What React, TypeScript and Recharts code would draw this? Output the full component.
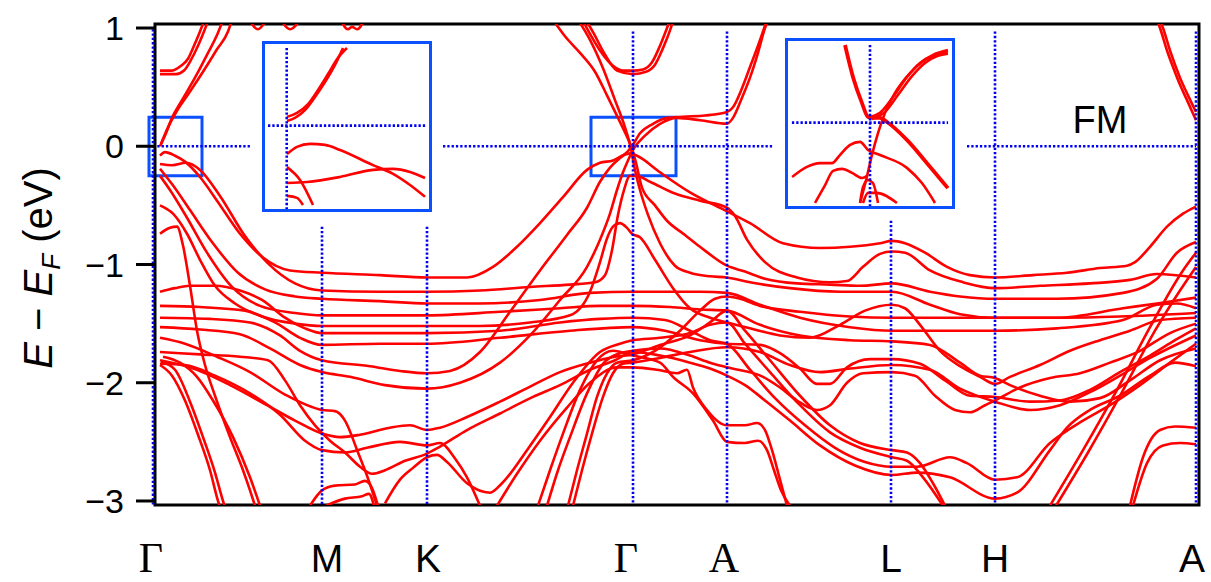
import React from 'react';
import { LineChart, Line, XAxis, YAxis, ReferenceLine, ReferenceArea } from 'recharts';

// Band structure along Γ–M–K–Γ–A–L–H–A (k in path units, energy in eV relative to E_F)
type Pt = [number, number];

const kTicks = [0, 169, 274, 480, 574, 738, 842, 1043];
const kLabels = ['Γ', 'M', 'K', 'Γ', 'A', 'L', 'H', 'A'];
const kLabelSerif = [true, false, false, true, true, false, false, false];
const eTicks = [-3, -2, -1, 0, 1];

// conduction bands
const c1: Pt[] = [[7,0.64],[19,0.64],[28,0.68],[35,0.74],[41,0.85],[46,0.95],[52,1.08]];
const c2: Pt[] = [[7,0.61],[23,0.61],[31,0.64],[38,0.73],[45,0.85],[50,0.95],[56,1.08]];
const c3: Pt[] = [[7,0.0],[13,0.11],[19,0.24],[29,0.39],[42,0.58],[55,0.79],[65,0.96],[70,1.07]];
const c4: Pt[] = [[8,0.02],[15,0.16],[24,0.3],[36,0.45],[50,0.63],[64,0.82],[75,0.97],[79,1.07]];
const c5: Pt[] = [[93,1.13],[105,0.99],[120,1.13],[137,0.99],[151,1.13]];
const c6: Pt[] = [[185,1.13],[195,0.99],[199,1.01],[204,0.99],[214,1.13]];
const c7: Pt[] = [[427,1.11],[437,0.95],[447,0.81],[460,0.68],[470,0.64],[480,0.64],[490,0.65],[499,0.71],[507,0.85],[514,1.0],[519,1.11]];
const c8: Pt[] = [[430,1.11],[441,0.95],[451,0.79],[464,0.64],[480,0.61],[493,0.63],[502,0.69],[510,0.83],[517,0.98],[522,1.11]];
const c9: Pt[] = [[1002,1.11],[1007,1.0],[1014,0.81],[1020,0.67],[1027,0.52],[1034,0.39],[1043,0.22]];
const c10: Pt[] = [[1005,1.11],[1010,1.0],[1017,0.81],[1027,0.58],[1035,0.43],[1043,0.29]];

// valence bands
const v1: Pt[] = [[7,-0.08],[12,-0.05],[22,-0.08],[32,-0.13],[47,-0.26],[64,-0.46],[87,-0.74],[110,-0.94],[137,-1.05],[169,-1.07],[227,-1.09],[274,-1.11],[314,-1.11],[340,-1.02],[364,-0.85],[387,-0.65],[410,-0.43],[434,-0.2],[447,-0.14],[460,-0.12],[469,-0.08],[477,-0.06],[484,-0.08],[507,-0.22],[537,-0.39],[574,-0.55],[597,-0.65],[630,-0.82],[667,-0.86],[697,-0.85],[727,-0.82],[739,-0.8],[752,-0.82],[772,-0.9],[794,-1.02],[817,-1.09],[842,-1.11],[880,-1.09],[914,-1.07],[947,-1.03],[974,-1.01],[982,-0.98],[997,-0.85],[1014,-0.68],[1030,-0.57],[1043,-0.51]];
const v2: Pt[] = [[7,-0.15],[19,-0.16],[33,-0.14],[47,-0.2],[67,-0.42],[92,-0.76],[115,-0.99],[142,-1.16],[169,-1.22],[227,-1.23],[274,-1.23],[327,-1.22],[377,-1.19],[417,-1.17],[442,-1.15],[452,-1.09],[459,-0.88],[465,-0.58],[471,-0.37],[477,-0.25],[483,-0.25],[497,-0.3],[522,-0.4],[547,-0.46],[574,-0.52],[582,-0.59],[594,-0.79],[612,-0.98],[644,-1.11],[677,-1.15],[694,-1.14],[710,-1.02],[727,-0.91],[739,-0.89],[752,-0.9],[777,-1.05],[810,-1.15],[842,-1.2],[887,-1.18],[937,-1.16],[977,-1.13],[1004,-1.08],[1043,-1.11]];
const v3: Pt[] = [[7,-0.19],[19,-0.32],[37,-0.54],[59,-0.81],[85,-1.07],[112,-1.21],[142,-1.27],[169,-1.29],[227,-1.31],[274,-1.33],[327,-1.33],[387,-1.3],[437,-1.24],[480,-1.23],[507,-1.23],[547,-1.23],[574,-1.24],[607,-1.34],[647,-1.45],[697,-1.53],[739,-1.56],[787,-1.56],[842,-1.56],[904,-1.54],[970,-1.47],[1004,-1.34],[1024,-1.33],[1043,-1.37]];
const v4: Pt[] = [[7,-0.25],[17,-0.37],[33,-0.59],[54,-0.9],[79,-1.19],[107,-1.35],[142,-1.41],[169,-1.43],[274,-1.43],[347,-1.4],[407,-1.37],[447,-1.35],[480,-1.35],[517,-1.36],[547,-1.38],[574,-1.39],[607,-1.51],[647,-1.6],[697,-1.64],[739,-1.65],[777,-1.68],[807,-1.83],[827,-1.94],[842,-1.96],[857,-2.02],[887,-2.11],[917,-2.16],[947,-2.13],[977,-1.98],[1007,-1.81],[1043,-1.71]];
const v5: Pt[] = [[7,-0.5],[20,-0.57],[34,-0.74],[47,-0.96],[62,-1.18],[82,-1.33],[109,-1.44],[142,-1.5],[169,-1.52],[274,-1.52],[327,-1.52],[377,-1.49],[417,-1.43],[437,-1.23],[447,-0.98],[454,-0.78],[460,-0.68],[467,-0.65],[474,-0.69],[479,-0.74],[487,-0.77],[502,-0.96],[520,-1.2],[537,-1.37],[557,-1.45],[574,-1.49],[597,-1.54],[627,-1.6],[657,-1.62],[687,-1.51],[712,-1.39],[739,-1.34],[752,-1.37],[767,-1.51],[787,-1.73],[807,-1.86],[827,-1.95],[842,-2.01],[857,-1.95],[887,-1.85],[917,-1.73],[947,-1.64],[977,-1.56],[1007,-1.47],[1043,-1.45]];
const v6: Pt[] = [[7,-0.74],[17,-0.69],[24,-0.68],[30,-0.84],[37,-1.18],[44,-1.56],[52,-1.85],[62,-2.11],[77,-2.46],[90,-2.74],[97,-2.91],[102,-3.04]];

// steep bands crossing E_F near the zone-centre
const x1: Pt[] = [[400,1.07],[412,0.93],[427,0.79],[442,0.63],[454,0.43],[465,0.24],[474,0.08],[479,-0.02],[483,-0.14],[489,-0.35],[502,-0.5],[514,-0.63],[532,-0.75],[547,-0.85],[574,-1.01],[592,-1.06],[612,-1.12],[644,-1.16],[677,-1.17],[707,-1.18],[739,-1.16],[777,-1.23],[807,-1.27],[842,-1.29],[904,-1.29],[970,-1.24],[1004,-1.12],[1024,-0.9],[1043,-0.81]];
const x2: Pt[] = [[425,1.07],[437,0.9],[450,0.66],[462,0.39],[472,0.16],[478,-0.02],[481,-0.16],[487,-0.37],[495,-0.58],[507,-0.82],[522,-1.01],[537,-1.07],[557,-1.1],[574,-1.11],[597,-1.15],[637,-1.2],[687,-1.23],[739,-1.23],[777,-1.34],[807,-1.42],[842,-1.45],[904,-1.45],[970,-1.37],[1004,-1.33],[1043,-1.28]];
const x3: Pt[] = [[7,-1.45],[57,-1.46],[97,-1.49],[127,-1.6],[147,-1.73],[169,-1.81],[217,-1.86],[247,-1.9],[274,-1.92],[297,-1.9],[327,-1.74],[357,-1.4],[387,-1.05],[414,-0.75],[434,-0.52],[447,-0.3],[457,-0.18],[467,-0.1],[474,-0.05],[479,0.0],[487,0.11],[500,0.19],[514,0.24],[530,0.25],[552,0.26],[574,0.29],[580,0.33],[589,0.49],[597,0.67],[605,0.85],[614,1.07]];
const x4: Pt[] = [[7,-1.53],[47,-1.55],[87,-1.59],[117,-1.71],[147,-1.85],[169,-1.91],[197,-1.95],[232,-2.02],[274,-2.05],[307,-2.0],[347,-1.83],[377,-1.6],[407,-1.3],[434,-1.02],[447,-0.79],[457,-0.57],[464,-0.37],[470,-0.22],[475,-0.12],[480,-0.03],[492,0.09],[507,0.19],[524,0.24],[547,0.22],[574,0.19],[580,0.24],[589,0.41],[597,0.58],[605,0.79],[612,1.0],[616,1.08]];

// flat d-like bands and their partners
const f1: Pt[] = [[7,-1.23],[22,-1.2],[37,-1.18],[62,-1.18],[87,-1.22],[109,-1.3],[132,-1.45],[152,-1.54],[169,-1.58],[274,-1.58],[347,-1.56],[407,-1.49],[447,-1.46],[480,-1.45],[512,-1.47],[537,-1.56],[557,-1.64],[574,-1.67],[597,-1.89],[622,-2.13],[652,-2.36],[682,-2.55],[712,-2.67],[739,-2.71],[764,-2.71],[797,-2.63],[814,-2.68],[842,-2.82],[864,-2.8],[897,-2.51],[930,-2.32],[957,-2.19],[987,-2.02],[1017,-1.83],[1043,-1.67]];
const f2: Pt[] = [[7,-1.35],[47,-1.36],[92,-1.39],[122,-1.49],[147,-1.62],[169,-1.68],[227,-1.67],[274,-1.67],[347,-1.62],[417,-1.56],[480,-1.53],[512,-1.56],[547,-1.64],[574,-1.67],[607,-1.68],[627,-1.75],[647,-1.88],[664,-2.01],[677,-2.01],[694,-1.87],[717,-1.8],[739,-1.8],[767,-1.84],[792,-1.98],[817,-2.11],[842,-2.12],[877,-2.16],[907,-2.15],[937,-2.06],[967,-1.91],[997,-1.77],[1022,-1.64],[1043,-1.54]];
const g1: Pt[] = [[7,-1.62],[32,-1.67],[64,-1.78],[97,-1.91],[132,-2.1],[169,-2.23],[182,-2.24],[192,-2.32],[205,-2.59],[215,-2.81],[224,-3.04]];
const g2: Pt[] = [[7,-1.74],[47,-1.76],[87,-1.78],[115,-1.81],[132,-1.98],[147,-2.19],[162,-2.36],[177,-2.49],[192,-2.59],[207,-2.71],[219,-2.77],[232,-2.74],[252,-2.66],[274,-2.6],[287,-2.54],[314,-2.4],[347,-2.26],[380,-2.12],[407,-2.02],[437,-1.89],[462,-1.81],[480,-1.74],[507,-1.77],[537,-1.83],[557,-1.88],[574,-1.94],[592,-2.02],[612,-2.15],[637,-2.32],[667,-2.53],[702,-2.7],[739,-2.78],[764,-2.76],[797,-2.8],[842,-2.98],[864,-2.93],[897,-2.57],[914,-2.38],[937,-2.23],[967,-2.11],[997,-1.94],[1022,-1.83],[1043,-1.86]];
const g3: Pt[] = [[7,-1.81],[37,-1.87],[77,-2.02],[114,-2.19],[142,-2.32],[169,-2.43],[187,-2.46],[207,-2.44],[237,-2.38],[257,-2.36],[274,-2.4],[287,-2.38],[314,-2.29],[347,-2.16],[380,-2.02],[407,-1.91],[437,-1.83],[462,-1.78],[480,-1.76],[507,-1.68],[537,-1.6],[557,-1.49],[574,-1.39],[592,-1.56],[617,-1.81],[647,-2.11],[677,-2.36],[707,-2.51],[739,-2.57],[754,-2.59],[767,-2.68],[780,-2.85],[792,-3.04]];
const g4: Pt[] = [[7,-1.84],[32,-1.85],[62,-1.94],[97,-2.09],[127,-2.27],[152,-2.49],[169,-2.57],[192,-2.59],[214,-2.55],[247,-2.5],[274,-2.53],[287,-2.51],[302,-2.64],[314,-2.8],[327,-3.04]];
const g5: Pt[] = [[232,-3.02],[247,-2.82],[260,-2.72],[274,-2.63],[284,-2.61],[294,-2.67],[314,-2.85],[337,-2.93],[349,-2.85],[374,-2.57],[397,-2.29],[420,-2.0],[447,-1.74],[467,-1.67],[480,-1.64],[507,-1.62],[537,-1.58],[557,-1.51],[574,-1.49],[592,-1.67],[617,-1.91],[647,-2.19],[677,-2.42],[707,-2.55],[739,-2.63],[754,-2.66],[770,-2.8],[790,-3.04]];

// steep dispersive bands from the bottom of the window
const s1: Pt[] = [[7,-1.85],[19,-1.94],[32,-2.15],[45,-2.44],[57,-2.74],[65,-3.0],[68,-3.08]];
const s2: Pt[] = [[8,-1.82],[22,-1.89],[37,-2.16],[50,-2.46],[62,-2.76],[70,-3.0],[73,-3.08]];
const s3: Pt[] = [[10,-1.78],[27,-1.83],[44,-1.95],[60,-2.15],[80,-2.46],[97,-2.8],[107,-3.04]];
const h1: Pt[] = [[157,-3.04],[169,-2.91],[182,-2.87],[202,-2.86],[212,-2.83],[219,-2.89],[225,-3.04]];
const h2: Pt[] = [[173,-3.04],[192,-2.98],[209,-2.96],[216,-2.94],[221,-3.04]];
const b1: Pt[] = [[344,-3.04],[364,-2.77],[387,-2.49],[414,-2.21],[437,-2.0],[464,-1.87],[480,-1.87],[504,-1.89],[524,-1.92],[534,-1.89],[540,-2.04],[554,-2.23],[574,-2.36],[592,-2.36],[604,-2.34],[612,-2.4],[619,-2.57],[627,-2.82],[634,-3.04]];
const b2: Pt[] = [[385,-3.04],[397,-2.74],[410,-2.43],[427,-2.06],[444,-1.81],[460,-1.73],[480,-1.77],[507,-1.83],[520,-1.95],[540,-2.09],[560,-2.32],[574,-2.5],[592,-2.51],[605,-2.49],[614,-2.57],[621,-2.74],[628,-2.91],[637,-3.04]];
const b3: Pt[] = [[394,-3.04],[405,-2.74],[417,-2.46],[434,-2.09],[450,-1.84],[467,-1.75],[480,-1.73],[507,-1.71],[537,-1.77],[557,-1.83],[574,-1.87],[610,-1.95],[627,-2.04],[644,-2.15],[664,-2.23],[677,-2.19],[694,-2.0],[710,-1.92],[739,-1.91],[762,-1.94],[782,-2.11],[802,-2.23],[817,-2.25],[832,-2.19],[842,-2.15],[867,-2.04],[897,-1.96],[927,-1.92],[957,-1.83],[987,-1.73],[1017,-1.58],[1043,-1.5]];
const b4: Pt[] = [[415,-3.04],[424,-2.74],[434,-2.43],[444,-2.12],[454,-1.92],[464,-1.83],[480,-1.81],[502,-1.73],[527,-1.56],[547,-1.39],[562,-1.29],[574,-1.27],[587,-1.29],[607,-1.35],[647,-1.4],[697,-1.44],[739,-1.45],[777,-1.45],[842,-1.45],[907,-1.45],[967,-1.44],[1043,-1.41]];
const b5: Pt[] = [[420,-3.04],[429,-2.74],[439,-2.43],[450,-2.12],[460,-1.92],[470,-1.84],[480,-1.83],[507,-1.79],[537,-1.74],[574,-1.7],[607,-1.74],[637,-1.85],[667,-1.91],[697,-1.88],[739,-1.85],[777,-1.89],[807,-2.05],[842,-2.16],[877,-2.23],[907,-2.19],[937,-2.08],[967,-1.94],[997,-1.79],[1043,-1.6]];
const r1: Pt[] = [[977,-3.04],[990,-2.63],[1007,-2.4],[1022,-2.37],[1043,-2.38]];
const r2: Pt[] = [[980,-3.04],[994,-2.68],[1010,-2.53],[1027,-2.51],[1043,-2.52]];
const r3: Pt[] = [[897,-3.04],[930,-2.57],[964,-2.06],[997,-1.53],[1030,-1.05],[1043,-0.9]];
const r4: Pt[] = [[903,-3.04],[935,-2.59],[969,-2.08],[1002,-1.56],[1027,-1.22],[1043,-1.02]];

const mainBands: Pt[][] = [
  c1, c2, c3, c4, c5, c6, c7, c8, c9, c10,
  v1, v2, v3, v4, v5, v6, x1, x2, x3, x4,
  f1, f2, g1, g2, g3, g4, g5,
  s1, s2, s3, h1, h2, b1, b2, b3, b4, b5,
  r1, r2, r3, r4,
];

// zoom near the first Γ point
const zoomA1: Pt[] = [[0.1,0.014],[2.65,0.023],[5.84,0.046],[9.04,0.085],[12.23,0.129],[15.42,0.18],[17.98,0.23]];
const zoomA2: Pt[] = [[0.1,0.026],[3.29,0.038],[6.8,0.064],[10.0,0.106],[13.19,0.153],[16.38,0.201],[19.25,0.23]];
const zoomA3: Pt[] = [[0.1,-0.084],[3.29,-0.063],[7.44,-0.054],[12.23,-0.057],[17.02,-0.072],[27.56,-0.117],[33.94,-0.143],[39.37,-0.176],[44.16,-0.211]];
const zoomA4: Pt[] = [[0.1,-0.17],[6.48,-0.167],[17.02,-0.152],[27.56,-0.131],[33.94,-0.128],[39.37,-0.137],[44.16,-0.155]];
const zoomA5: Pt[] = [[0.1,-0.123],[4.25,-0.161],[8.4,-0.235]];
const zoomA6: Pt[] = [[0.1,-0.208],[3.29,-0.214],[5.2,-0.235]];
const zoomABands: Pt[][] = [zoomA1, zoomA2, zoomA3, zoomA4, zoomA5, zoomA6];

// zoom near the second Γ point
const zoomB1: Pt[] = [[467.2,0.23],[471.3,0.135],[475.9,0.058],[479.0,0.017],[481.5,0.014],[485.1,0.014],[488.7,0.002],[498.9,-0.051],[509.2,-0.12],[519.9,-0.194]];
const zoomB2: Pt[] = [[480.0,0.017],[485.1,0.029],[491.8,0.076],[498.9,0.135],[505.6,0.177],[512.3,0.201],[519.9,0.215]];
const zoomB3: Pt[] = [[481.0,0.011],[487.7,0.032],[494.3,0.082],[501.5,0.138],[508.2,0.177],[514.8,0.198],[519.9,0.204]];
const zoomB4: Pt[] = [[474.9,-0.238],[478.0,-0.17],[481.0,-0.096],[484.1,-0.031],[487.7,0.029],[492.8,0.088],[500.5,0.147],[508.2,0.186],[519.9,0.209]];
const zoomB5: Pt[] = [[440.1,-0.161],[447.7,-0.131],[454.4,-0.12],[460.5,-0.12],[464.6,-0.096],[469.8,-0.066],[474.9,-0.057],[479.0,-0.081],[485.1,-0.096],[498.9,-0.134],[506.6,-0.179],[513.3,-0.238]];
const zoomB6: Pt[] = [[451.8,-0.238],[457.0,-0.185],[461.1,-0.143],[465.7,-0.137],[470.8,-0.149],[475.9,-0.164],[478.5,-0.158]];
const zoomB7: Pt[] = [[474.9,-0.238],[476.4,-0.191],[479.0,-0.17],[481.5,-0.179],[484.1,-0.238]];
const zoomB8: Pt[] = [[476.4,-0.238],[479.0,-0.208],[483.1,-0.208],[493.8,-0.238]];
const zoomBBands: Pt[][] = [zoomB1, zoomB2, zoomB3, zoomB4, zoomB5, zoomB6, zoomB7, zoomB8];

const rows = (pts: Pt[]) => pts.map(([k, e]) => ({ k, e }));

const RED = '#ff0000';
const DOT = '#0000f5';
const BOX = '#0a50ff';
const SANS = '"Liberation Sans", Arial, sans-serif';
const SERIF = '"Liberation Serif", "Times New Roman", serif';
const dotted = { stroke: DOT, strokeWidth: 2.6, strokeDasharray: '2.3 2' };
const labelNudge = [-2, 5, 1, -7, -3, 0, 0, -4];

const XTick = (props: any) => {
  const { x, payload } = props;
  const i = kTicks.indexOf(payload.value);
  if (i < 0) return null;
  return (
    <text x={x + labelNudge[i]} y={572} textAnchor="middle" fill="#000"
      fontFamily={kLabelSerif[i] ? SERIF : SANS} fontSize={kLabelSerif[i] ? 42 : 39}>
      {kLabels[i]}
    </text>
  );
};

const fmt = (v: number) => (v < 0 ? `\u2212${Math.abs(v)}` : `${v}`);

function ZoomPanel({ left, top, xDomain, bands, cross, thickFirst }: { left: number; top: number; xDomain: [number, number]; bands: Pt[][]; cross: { x: number; h: [number, number] }; thickFirst: boolean }) {
  return (
    <div style={{ position: 'absolute', left, top, width: 164, height: 165, border: `3px solid ${BOX}`, background: '#fff' }}>
      <LineChart width={164} height={165} margin={{ top: 0, right: 0, bottom: 0, left: 0 }}>
        <XAxis type="number" dataKey="k" domain={xDomain} hide allowDataOverflow />
        <YAxis type="number" domain={[-0.247, 0.242]} hide allowDataOverflow />
        {bands.map((b, i) => (
          <Line key={i} data={rows(b)} dataKey="e" type="monotoneX" stroke={RED}
            strokeWidth={i === 0 && thickFirst ? 3.8 : 2.6} dot={false} isAnimationActive={false} />
        ))}
        <ReferenceLine segment={[{ x: cross.x, y: 0.23 }, { x: cross.x, y: -0.247 }]} {...dotted} ifOverflow="visible" />
        <ReferenceLine segment={[{ x: cross.h[0], y: 0 }, { x: cross.h[1], y: 0 }]} {...dotted} ifOverflow="visible" />
      </LineChart>
    </div>
  );
}

export default function App() {
  return (
    <div style={{ position: 'absolute', left: 0, top: 0, width: 1211, height: 582, background: '#fff' }}>
      <LineChart width={1211} height={582} margin={{ top: 24, right: 12, bottom: 0, left: 0 }}>
        <XAxis type="number" dataKey="k" domain={[2, 1046]} ticks={kTicks} interval={0}
          allowDataOverflow height={77} axisLine={false} tickLine={false} tick={<XTick />} />
        <YAxis type="number" domain={[-3.034, 1.034]} ticks={eTicks} allowDataOverflow width={155}
          axisLine={false} tickSize={19} tickMargin={12} tickFormatter={fmt}
          tickLine={{ stroke: '#000', strokeWidth: 3 }}
          tick={{ fill: '#000', fontSize: 34, fontFamily: SANS }} />
        {mainBands.map((b, i) => (
          <Line key={i} data={rows(b)} dataKey="e" type="monotoneX" stroke={RED} strokeWidth={2.6}
            dot={false} isAnimationActive={false} />
        ))}
        <ReferenceLine segment={[{ x: 0, y: 0.99 }, { x: 0, y: -3.03 }]} {...dotted} ifOverflow="visible" />
        <ReferenceLine segment={[{ x: 169, y: -0.68 }, { x: 169, y: -3.03 }]} {...dotted} ifOverflow="visible" />
        <ReferenceLine segment={[{ x: 274, y: -0.68 }, { x: 274, y: -3.03 }]} {...dotted} ifOverflow="visible" />
        <ReferenceLine segment={[{ x: 480, y: 0.97 }, { x: 480, y: -3.03 }]} {...dotted} ifOverflow="visible" />
        <ReferenceLine segment={[{ x: 574, y: 0.97 }, { x: 574, y: -3.03 }]} {...dotted} ifOverflow="visible" />
        <ReferenceLine segment={[{ x: 738, y: -0.63 }, { x: 738, y: -3.03 }]} {...dotted} ifOverflow="visible" />
        <ReferenceLine segment={[{ x: 842, y: 0.97 }, { x: 842, y: -3.03 }]} {...dotted} ifOverflow="visible" />
        <ReferenceLine segment={[{ x: 1043, y: 0.97 }, { x: 1043, y: -3.03 }]} {...dotted} ifOverflow="visible" />
        <ReferenceLine segment={[{ x: 0, y: 0 }, { x: 97, y: 0 }]} {...dotted} ifOverflow="visible" />
        <ReferenceLine segment={[{ x: 290, y: 0 }, { x: 621, y: 0 }]} {...dotted} ifOverflow="visible" />
        <ReferenceLine segment={[{ x: 814, y: 0 }, { x: 1043, y: 0 }]} {...dotted} ifOverflow="visible" />
        <ReferenceArea x1={-4} x2={49} y1={-0.25} y2={0.245} fill="none" stroke={BOX} strokeWidth={3} ifOverflow="visible" />
        <ReferenceArea x1={438} x2={523} y1={-0.25} y2={0.245} fill="none" stroke={BOX} strokeWidth={3} ifOverflow="visible" />
        <ReferenceArea x1={2} x2={1046} y1={-3.034} y2={1.034} fill="none" stroke="#000" strokeWidth={3} ifOverflow="visible" />
      </LineChart>

      <svg width={1211} height={582} style={{ position: 'absolute', left: 0, top: 0, pointerEvents: 'none' }}>
        <text transform="translate(52,268) rotate(-90)" textAnchor="middle" fontFamily={SANS} fontSize={40} fill="#000">
          <tspan fontStyle="italic">E</tspan>
          <tspan>{' \u2212 '}</tspan>
          <tspan fontStyle="italic">E</tspan>
          <tspan fontStyle="italic" fontSize={26} dy={8}>F</tspan>
          <tspan dy={-8}>{' (eV)'}</tspan>
        </text>
        <text x={1100} y={133} textAnchor="middle" fontFamily={SANS} fontSize={38} fill="#000">FM</text>
      </svg>

      <ZoomPanel left={262} top={41} xDomain={[-6.93, 45.43]} bands={zoomABands} cross={{ x: 0, h: [-5.97, 44.2] }} thickFirst={false} />
      <ZoomPanel left={785} top={38} xDomain={[438.0, 522.0]} bands={zoomBBands} cross={{ x: 480, h: [440, 520] }} thickFirst={true} />
    </div>
  );
}
